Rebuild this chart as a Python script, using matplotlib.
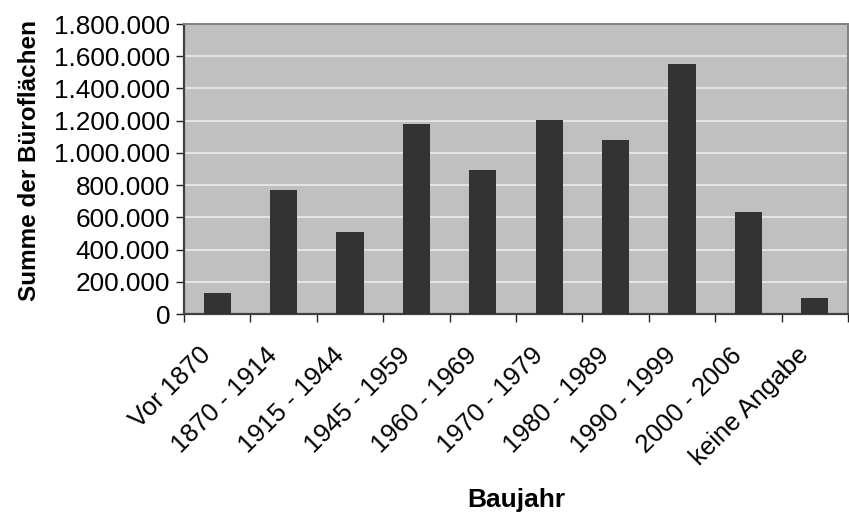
import matplotlib
matplotlib.use("Agg")
import matplotlib.pyplot as plt
import matplotlib.transforms as mtransforms
import numpy as np
from matplotlib.ticker import FuncFormatter, FixedLocator

plt.rcParams['font.family'] = ['Liberation Sans', 'DejaVu Sans']

categories = ["Vor 1870", "1870 - 1914", "1915 - 1944", "1945 - 1959", "1960 - 1969",
              "1970 - 1979", "1980 - 1989", "1990 - 1999", "2000 - 2006", "keine Angabe"]
flaechen = [130000, 770000, 509000, 1179000, 894000,
            1204000, 1080000, 1552000, 633000, 99000]
y_ticks = [0, 200000, 400000, 600000, 800000, 1000000, 1200000, 1400000, 1600000, 1800000]

fig = plt.figure(figsize=(8.49, 5.16), dpi=100)
ax = fig.add_axes([184 / 849, 1 - 314 / 516, 664 / 849, 290 / 516])
ax.set_facecolor("#c0c0c0")

x = np.arange(len(categories))
ax.bar(x, flaechen, width=0.41, color="#333333", zorder=3)

ax.set_xlim(-0.5, len(categories) - 0.5)
ax.set_ylim(0, 1800000)
ax.set_yticks(y_ticks)
ax.yaxis.set_major_formatter(FuncFormatter(lambda v, p: f"{int(v):,}".replace(",", ".")))
ax.grid(axis="y", color="#ebebeb", linewidth=1.2, zorder=1)

ax.set_xticks(x)
ax.set_xticklabels(categories, rotation=45, ha="right", va="center",
                   rotation_mode="anchor", fontsize=18.5)
ax.xaxis.set_minor_locator(FixedLocator(np.arange(-0.5, len(categories), 1.0)))
ax.tick_params(axis="x", which="major", length=0, pad=27)
ax.tick_params(axis="x", which="minor", length=6, width=1, color="#222222", direction="out")
ax.tick_params(axis="y", length=6, width=1, color="#222222", labelsize=18.8, pad=4)

# Excel setzt die schraegen Beschriftungen etwas links von der Kategoriemitte
shift = mtransforms.ScaledTranslation(-10 / 100, 0, fig.dpi_scale_trans)
for lbl in ax.get_xticklabels():
    lbl.set_transform(lbl.get_transform() + shift)

for s in ["left", "bottom"]:
    ax.spines[s].set_color("#404040")
    ax.spines[s].set_linewidth(1.6)
for s in ["top", "right"]:
    ax.spines[s].set_color("#808080")
    ax.spines[s].set_linewidth(1.4)

ax.set_ylabel("Summe der Büroflächen", fontsize=17.5, fontweight="bold", va="center")
ax.yaxis.set_label_coords(-0.232, 0.528)
ax.set_xlabel("Baujahr", fontsize=19, fontweight="bold", va="center")
ax.xaxis.set_label_coords(0.5, -0.642)

fig.savefig("out.png", dpi=100)
